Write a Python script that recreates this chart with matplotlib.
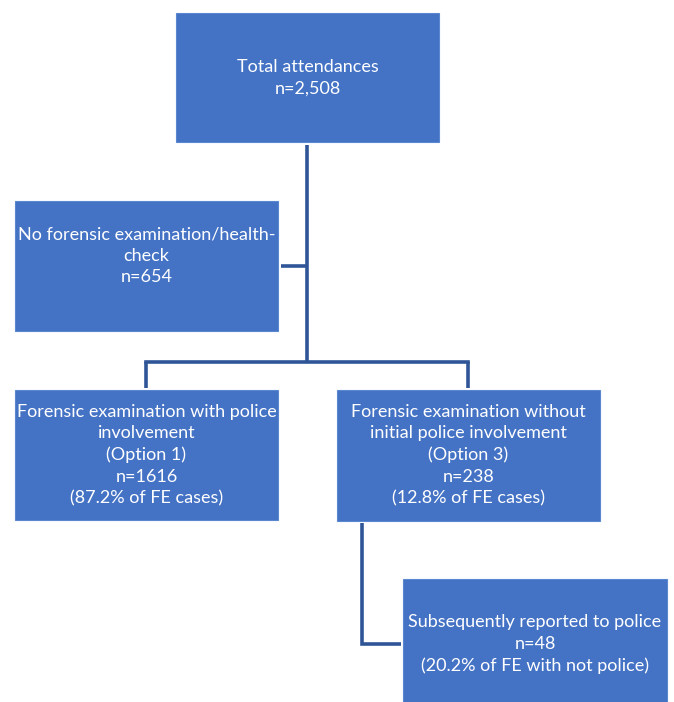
import matplotlib.pyplot as plt
from matplotlib.patches import Rectangle

# flowchart content
labels = [
    "Total attendances",
    "No forensic examination/health-\ncheck",
    "Forensic examination with police\ninvolvement\n(Option 1)",
    "Forensic examination without\ninitial police involvement\n(Option 3)",
    "Subsequently reported to police",
]
counts = ["2,508", "654", "1616", "238", "48"]
notes = ["", "", "(87.2% of FE cases)", "(12.8% of FE cases)", "(20.2% of FE with not police)"]

# layout in pixels: x0, y0, x1, y1, text centre y
boxes = [
    (176, 13, 439, 142, 78),
    (15, 201, 278, 331, 256),
    (15, 390, 278, 520, 455),
    (337, 390, 600, 521, 455),
    (403, 579, 667, 702, 644),
]

box_color = "#4472C4"
line_color = "#2F5597"

fig = plt.figure(figsize=(6.74, 7.02), dpi=100)
ax = fig.add_axes([0, 0, 1, 1])
ax.set_xlim(0, 674)
ax.set_ylim(702, 0)
ax.axis("off")

for i, (x0, y0, x1, y1, ty) in enumerate(boxes):
    ax.add_patch(Rectangle((x0, y0), x1 - x0, y1 - y0, facecolor=box_color,
                           edgecolor="#5B86D0", linewidth=0.8))
    text = labels[i] + "\nn=" + counts[i]
    if notes[i]:
        text += "\n" + notes[i]
    ax.text((x0 + x1) / 2, ty, text, color="white", ha="center", va="center",
            fontsize=13, family="Lato", linespacing=1.42)

# connectors
lw = 2.6
ax.plot([307, 307], [145, 362], color=line_color, lw=lw, solid_capstyle="butt")
ax.plot([281, 307], [266, 266], color=line_color, lw=lw, solid_capstyle="butt")
ax.plot([146, 468], [362, 362], color=line_color, lw=lw, solid_joinstyle="miter")
ax.plot([146, 146], [362, 388], color=line_color, lw=lw, solid_capstyle="butt")
ax.plot([468, 468], [362, 388], color=line_color, lw=lw, solid_capstyle="butt")
ax.plot([362, 362, 401], [523, 644, 644], color=line_color, lw=lw,
        solid_capstyle="butt", solid_joinstyle="miter")

fig.savefig("out.png", dpi=100)
